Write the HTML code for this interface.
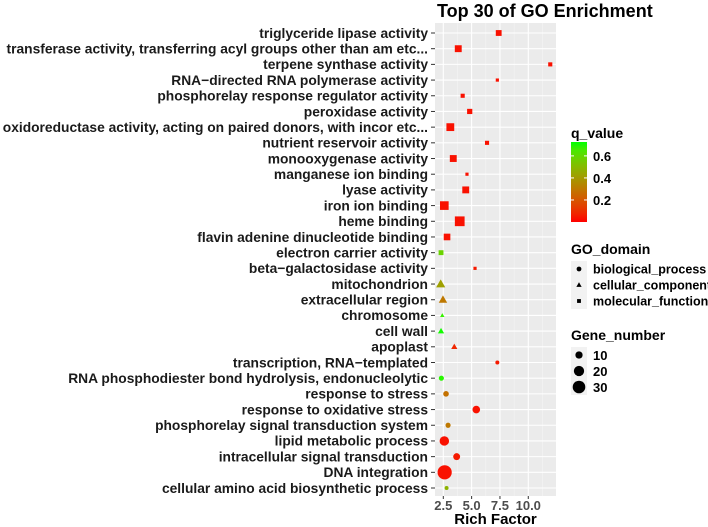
<!DOCTYPE html>
<html><head><meta charset="utf-8"><style>
html,body{margin:0;padding:0;background:#fff;}
svg{display:block;font-family:"Liberation Sans",Arial,sans-serif;font-weight:bold;}
</style></head><body>
<svg id="chart" width="708" height="527" viewBox="0 0 708 527"></svg>
<script>
const terms = ["triglyceride lipase activity","transferase activity, transferring acyl groups other than am etc...","terpene synthase activity","RNA\u2212directed RNA polymerase activity","phosphorelay response regulator activity","peroxidase activity","oxidoreductase activity, acting on paired donors, with incor etc...","nutrient reservoir activity","monooxygenase activity","manganese ion binding","lyase activity","iron ion binding","heme binding","flavin adenine dinucleotide binding","electron carrier activity","beta\u2212galactosidase activity","mitochondrion","extracellular region","chromosome","cell wall","apoplast","transcription, RNA\u2212templated","RNA phosphodiester bond hydrolysis, endonucleolytic","response to stress","response to oxidative stress","phosphorelay signal transduction system","lipid metabolic process","intracellular signal transduction","DNA integration","cellular amino acid biosynthetic process"];
const richFactor = [7.39,3.82,11.94,7.27,4.21,4.83,3.12,6.36,3.38,4.59,4.48,2.59,3.95,2.83,2.3,5.3,2.27,2.47,2.41,2.3,3.47,7.27,2.33,2.74,5.41,2.92,2.59,3.68,2.62,2.79];
const qValue = [0.03,0.03,0.03,0.03,0.03,0.03,0.03,0.03,0.03,0.03,0.03,0.03,0.03,0.03,0.58,0.05,0.42,0.3,0.68,0.72,0.08,0.05,0.7,0.28,0.03,0.3,0.03,0.05,0.03,0.48];
const geneNumber = [10,14,5,3,5,8,18,5,14,3,14,22,28,13,7,3,13,11,3,6,6,3,5,6,11,5,17,9,38,3];
const domain = ["m","m","m","m","m","m","m","m","m","m","m","m","m","m","m","m","c","c","c","c","c","b","b","b","b","b","b","b","b","b"];
const xTicks = [2.5,5,7.5,10];
const xTickLabels = ["2.5","5.0","7.5","10.0"];
const qTicks = [0.2,0.4,0.6];

const NS="http://www.w3.org/2000/svg";
const svg=document.getElementById('chart');
function mk(tag,attrs,parent){const e=document.createElementNS(NS,tag);for(const k in attrs)e.setAttribute(k,attrs[k]);(parent||svg).appendChild(e);return e;}
const P={l:435,r:556,t:23,b:496};
const x=v=>443.3+(v-2.5)*11.33;
const y=i=>33+i*15.69;
function qColor(q){const t=Math.max(0,Math.min(1,q/0.726));return `rgb(${Math.round(255*Math.pow(1-t,0.55))},${Math.round(255*Math.pow(t,0.85))},0)`;}
const rad=n=>1.15*Math.sqrt(n);

const panel=mk('rect',{x:P.l,y:P.t,width:P.r-P.l,height:P.b-P.t,fill:'#ebebeb'});

const grid=mk('g',{});
for(let k=0;k<xTicks.length+1;k++){const v=1.25+k*2.5;if(x(v)>P.l&&x(v)<P.r)mk('line',{x1:x(v),x2:x(v),y1:P.t,y2:P.b,stroke:'#f5f5f5','stroke-width':0.6},grid);}
xTicks.forEach(v=>mk('line',{x1:x(v),x2:x(v),y1:P.t,y2:P.b,stroke:'#fff','stroke-width':1.1},grid));
terms.forEach((t,i)=>mk('line',{x1:P.l,x2:P.r,y1:y(i),y2:y(i),stroke:'#fff','stroke-width':1.1},grid));

const ylab=mk('g',{});
terms.forEach((t,i)=>{
 const tx=mk('text',{x:428,y:y(i)+4.8,'text-anchor':'end','font-size':13.8,fill:'#1a1a1a'},ylab);tx.textContent=t;
 mk('line',{x1:431,x2:435,y1:y(i),y2:y(i),stroke:'#333'},ylab);
});
const xlab=mk('g',{});
xTicks.forEach((v,k)=>{mk('line',{x1:x(v),x2:x(v),y1:P.b,y2:P.b+3,stroke:'#333'},xlab);
 const tx=mk('text',{x:x(v),y:510,'text-anchor':'middle','font-size':13,fill:'#4d4d4d'},xlab);tx.textContent=xTickLabels[k];});
const xt=mk('text',{x:(P.l+P.r)/2,y:524,'text-anchor':'middle','font-size':15,fill:'#000'});xt.textContent='Rich Factor';

const tt=mk('text',{x:437,y:17,'font-size':18,fill:'#000'});tt.textContent='Top 30 of GO Enrichment';


function shape(d,cx,cy,r,fill,parent){
 if(d==='b')return mk('circle',{cx,cy,r,fill},parent);
 if(d==='m'){const s=r*1.6;return mk('rect',{x:cx-s/2,y:cy-s/2,width:s,height:s,fill},parent);}
 const s=r*1.9;return mk('polygon',{points:`${cx},${cy-s*0.6} ${cx-s*0.58},${cy+s*0.42} ${cx+s*0.58},${cy+s*0.42}`,fill},parent);
}
const pts=mk('g',{});
terms.forEach((t,i)=>{const e=shape(domain[i],x(richFactor[i]),y(i),rad(geneNumber[i]),qColor(qValue[i]),pts);
 });

const lg=mk('g',{});
mk('text',{x:571,y:138,'font-size':14,fill:'#000'},lg).textContent='q_value';
const defs=mk('defs',{});const gr=mk('linearGradient',{id:'qg',x1:0,y1:1,x2:0,y2:0},defs);
for(let k=0;k<=10;k++){mk('stop',{offset:k/10,'stop-color':qColor(k/10*0.726)},gr);}
const cb=mk('rect',{x:571,y:142,width:16,height:80,fill:'url(#qg)'},lg);

const qy=q=>222-(q/0.726)*80;
qTicks.forEach(q=>{mk('line',{x1:571,x2:574,y1:qy(q),y2:qy(q),stroke:'#fff'},lg);mk('line',{x1:584,x2:587,y1:qy(q),y2:qy(q),stroke:'#fff'},lg);
 mk('text',{x:593,y:qy(q)+5,'font-size':13,fill:'#000'},lg).textContent=q.toFixed(1);});
mk('text',{x:571,y:254,'font-size':14,fill:'#000'},lg).textContent='GO_domain';
[['b','biological_process'],['c','cellular_component'],['m','molecular_function']].forEach((d,k)=>{
 const cy=269+k*16;mk('rect',{x:571,y:cy-8,width:16,height:16,fill:'#f2f2f2'},lg);
 shape(d[0],579,cy,2.4,'#000',lg);
 const tx=mk('text',{x:593,y:cy+4.5,'font-size':12.5,fill:'#000'},lg);tx.textContent=d[1];
 });
mk('text',{x:571,y:340,'font-size':14,fill:'#000'},lg).textContent='Gene_number';
[10,20,30].forEach((n,k)=>{const cy=355+k*16;mk('rect',{x:571,y:cy-8,width:16,height:16,fill:'#f2f2f2'},lg);
 mk('circle',{cx:579,cy,r:rad(n),fill:'#000'},lg);
 mk('text',{x:593,y:cy+5,'font-size':13,fill:'#000'},lg).textContent=String(n);});
</script>
</body></html>
